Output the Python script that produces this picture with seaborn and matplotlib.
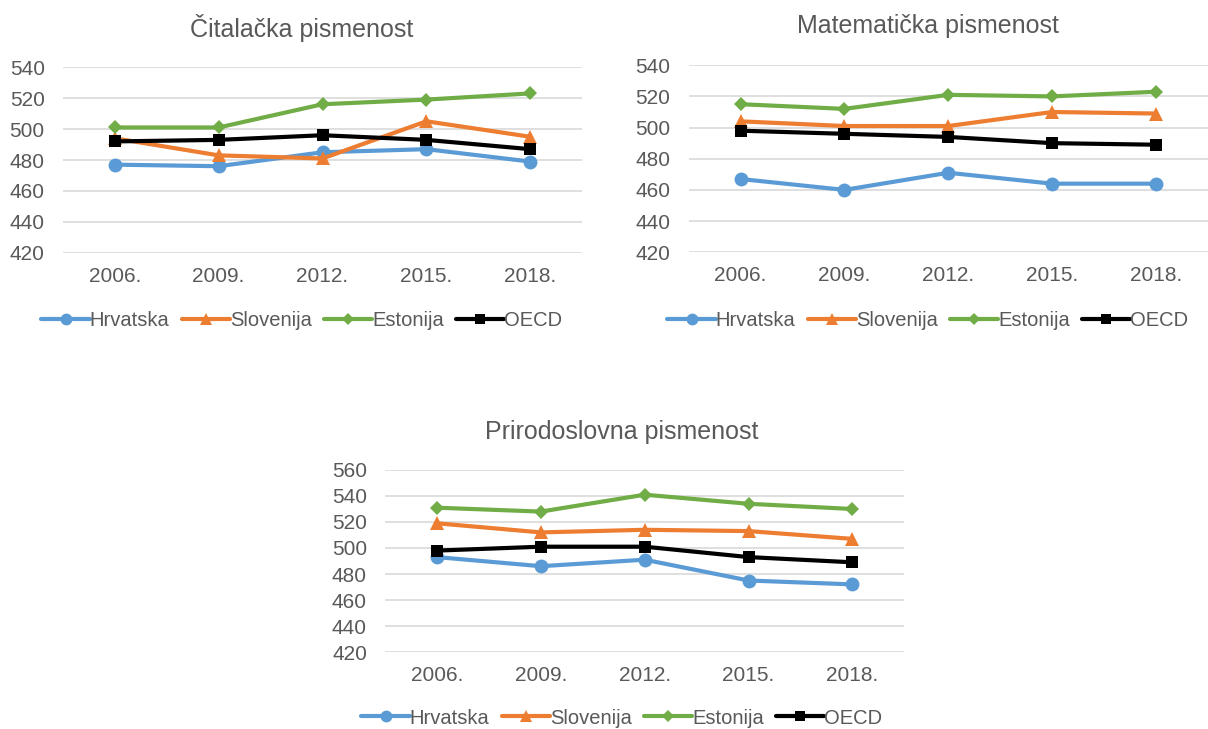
import pandas as pd
import matplotlib.pyplot as plt
import seaborn as sns

years = ['2006.', '2009.', '2012.', '2015.', '2018.']
countries = ['Hrvatska', 'Slovenija', 'Estonija', 'OECD']

citanje = {
    'Hrvatska': [477, 476, 485, 487, 479],
    'Slovenija': [494, 483, 481, 505, 495],
    'Estonija': [501, 501, 516, 519, 523],
    'OECD': [492, 493, 496, 493, 487],
}
matematika = {
    'Hrvatska': [467, 460, 471, 464, 464],
    'Slovenija': [504, 501, 501, 510, 509],
    'Estonija': [515, 512, 521, 520, 523],
    'OECD': [498, 496, 494, 490, 489],
}
prirodoslovlje = {
    'Hrvatska': [493, 486, 491, 475, 472],
    'Slovenija': [519, 512, 514, 513, 507],
    'Estonija': [531, 528, 541, 534, 530],
    'OECD': [498, 501, 501, 493, 489],
}

palette = {'Hrvatska': '#5B9BD5', 'Slovenija': '#ED7D31', 'Estonija': '#70AD47', 'OECD': '#000000'}
markers = {'Hrvatska': 'o', 'Slovenija': '^', 'Estonija': 'D', 'OECD': 's'}
msizes = {'Hrvatska': 10, 'Slovenija': 10, 'Estonija': 7.5, 'OECD': 9}

sns.set_style('white')
plt.rcParams['font.family'] = ['Liberation Sans', 'DejaVu Sans']

def to_long(d):
    rows = []
    for c in countries:
        for y, v in zip(years, d[c]):
            rows.append({'godina': y, 'zemlja': c, 'bodovi': v})
    return pd.DataFrame(rows)

def draw(fig, ax, d, title, ymax, cx, ty, ly):
    df = to_long(d)
    for c in countries:
        sub = df[df.zemlja == c]
        sns.lineplot(data=sub, x='godina', y='bodovi', ax=ax, color=palette[c],
                     marker=markers[c], markersize=msizes[c], markeredgewidth=0,
                     linewidth=3.0, label=c, sort=False)
    ax.set_xlim(-0.5, 4.5)
    ax.set_ylim(420, ymax)
    ax.set_yticks(range(420, ymax + 1, 20))
    ax.yaxis.grid(True, color='#D9D9D9', linewidth=1.2)
    ax.set_axisbelow(True)
    for s in ax.spines.values():
        s.set_visible(False)
    ax.set_xlabel('')
    ax.set_ylabel('')
    ax.tick_params(axis='both', length=0, labelsize=15, labelcolor='#595959')
    ax.tick_params(axis='x', pad=10)
    ax.tick_params(axis='y', pad=13)
    fig.text(cx / 1208, 1 - ty / 729, title, fontsize=18, color='#595959',
             ha='center', va='center')
    h, l = ax.get_legend_handles_labels()
    ax.get_legend().remove()
    fig.legend(h, l, loc='center', bbox_to_anchor=(cx / 1208, 1 - ly / 729), ncol=4,
               frameon=False, fontsize=14.5, handlelength=2.4, handletextpad=0.0,
               columnspacing=0.6, labelcolor='#595959', markerscale=0.85)

fig = plt.figure(figsize=(12.08, 7.29), dpi=100)
ax1 = fig.add_axes([0.052, 0.653, 0.430, 0.255])
ax2 = fig.add_axes([0.570, 0.654, 0.430, 0.2565])
ax3 = fig.add_axes([0.3187, 0.1056, 0.430, 0.2497])

draw(fig, ax1, citanje, 'Čitalačka pismenost', 540, 302, 28, 321)
draw(fig, ax2, matematika, 'Matematička pismenost', 540, 928, 26, 321)
draw(fig, ax3, prirodoslovlje, 'Prirodoslovna pismenost', 560, 622, 432, 718)

fig.savefig('out.png', dpi=100)
